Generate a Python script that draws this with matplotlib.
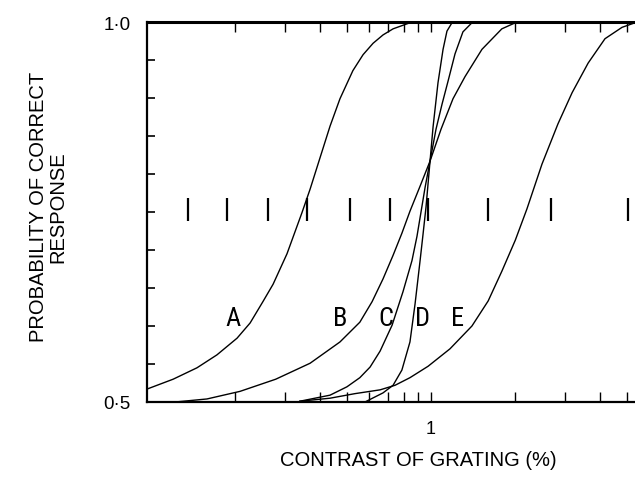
import matplotlib
matplotlib.use("Agg")
import matplotlib.pyplot as plt
from matplotlib.ticker import FixedLocator, FixedFormatter, NullFormatter
from matplotlib import font_manager

plt.rcParams['font.family'] = ['Liberation Sans', 'DejaVu Sans']

# ---- data (contrast %, probability correct) ----
a_x = [0.0968, 0.120, 0.146, 0.172, 0.203, 0.226, 0.251, 0.273, 0.306, 0.346,
       0.370, 0.402, 0.436, 0.473, 0.526, 0.572, 0.621, 0.674, 0.732, 0.841, 0.952]
a_y = [0.517, 0.530, 0.545, 0.562, 0.584, 0.604, 0.632, 0.655, 0.695, 0.749,
       0.780, 0.822, 0.863, 0.899, 0.936, 0.957, 0.972, 0.983, 0.991, 0.999, 1.000]

b_x = [0.122, 0.1585, 0.208, 0.279, 0.370, 0.473, 0.557, 0.616, 0.674, 0.732,
       0.787, 0.841, 0.914, 0.992, 1.086, 1.198, 1.322, 1.52, 1.79, 2.0, 2.26]
b_y = [0.500, 0.504, 0.514, 0.530, 0.551, 0.579, 0.605, 0.632, 0.662, 0.693,
       0.722, 0.751, 0.784, 0.817, 0.859, 0.899, 0.928, 0.964, 0.991, 0.999, 1.000]

c_x = [0.340, 0.436, 0.501, 0.557, 0.606, 0.658, 0.726, 0.794, 0.855, 0.891,
       0.921, 0.952, 0.992, 1.042, 1.095, 1.15, 1.218, 1.30, 1.40, 1.496]
c_y = [0.501, 0.509, 0.520, 0.532, 0.546, 0.567, 0.601, 0.645, 0.686, 0.718,
       0.750, 0.782, 0.817, 0.859, 0.892, 0.922, 0.958, 0.987, 0.999, 1.000]

d_x = [0.581, 0.674, 0.732, 0.787, 0.841, 0.877, 0.914, 0.936, 0.960, 0.992,
       1.017, 1.059, 1.104, 1.14, 1.188, 1.269]
d_y = [0.500, 0.512, 0.522, 0.542, 0.579, 0.629, 0.686, 0.720, 0.757, 0.817,
       0.862, 0.920, 0.964, 0.988, 0.999, 1.000]

e_x = [0.340, 0.436, 0.535, 0.658, 0.744, 0.841, 0.976, 1.169, 1.40, 1.60,
       1.79, 2.0, 2.2, 2.49, 2.84, 3.19, 3.64, 4.18, 4.81, 5.35]
e_y = [0.501, 0.505, 0.511, 0.516, 0.522, 0.532, 0.547, 0.570, 0.600, 0.633,
       0.672, 0.713, 0.754, 0.813, 0.866, 0.907, 0.946, 0.978, 0.993, 0.999]

# row of vertical bars
bar_x = [0.1355, 0.187, 0.262, 0.361, 0.514, 0.714, 0.976, 1.60, 2.68, 5.05]
bar_lo, bar_hi = 0.738, 0.768

# curve letter labels
letters = ['A', 'B', 'C', 'D', 'E']
letter_x = [0.196, 0.473, 0.691, 0.929, 1.249]
letter_y = 0.611

x_minor = [0.2, 0.3, 0.4, 0.5, 0.6, 0.7, 0.8, 0.9, 2, 3, 4, 5]
y_ticks = [0.5, 0.55, 0.6, 0.65, 0.7, 0.75, 0.8, 0.85, 0.9, 0.95, 1.0]
y_labels = ['0\u00b75', '', '', '', '', '', '', '', '', '', '1\u00b70']

# ---- pick a condensed face for the curve letters if one exists ----
letter_family = ['DejaVu Sans']
letter_stretch = 'normal'
names = {f.name for f in font_manager.fontManager.ttflist}
for cand in ['Liberation Sans Narrow', 'DejaVu Sans Condensed', 'Roboto Condensed',
             'Open Sans Condensed', 'Noto Sans Condensed']:
    if cand in names:
        letter_family = [cand, 'DejaVu Sans']
        break
else:
    for f in font_manager.fontManager.ttflist:
        if str(f.stretch) in ('condensed', 'semi-condensed', 'extra-condensed', '87', '75') \
                and f.style == 'normal':
            letter_family = [f.name, 'DejaVu Sans']
            letter_stretch = f.stretch
            break

# ---- figure ----
W, H = 635, 481
fig = plt.figure(figsize=(W / 100, H / 100), dpi=100)
ax = fig.add_axes([147 / W, 1 - 403 / H, 1 - 147 / W, (403 - 23) / H])
ax.set_xscale('log')
ax.set_xlim(0.0968, 5.35)
ax.set_ylim(0.5, 1.0)

for xs, ys in [(a_x, a_y), (b_x, b_y), (c_x, c_y), (d_x, d_y), (e_x, e_y)]:
    ax.plot(xs, ys, color='black', lw=1.0, solid_joinstyle='round', clip_on=False)

ax.vlines(bar_x, bar_lo, bar_hi, color='black', lw=1.6)

for t, lx in zip(letters, letter_x):
    ax.text(lx, letter_y, t, ha='center', va='center', fontsize=19,
            family=letter_family, fontstretch=letter_stretch)

ax.spines['right'].set_visible(False)
for s in ['left', 'bottom']:
    ax.spines[s].set_linewidth(1.6)
ax.spines['top'].set_linewidth(2.2)

ax.xaxis.set_major_locator(FixedLocator([1]))
ax.xaxis.set_major_formatter(FixedFormatter(['1']))
ax.xaxis.set_minor_locator(FixedLocator(x_minor))
ax.xaxis.set_minor_formatter(NullFormatter())
ax.tick_params(axis='x', which='both', direction='in', top=True, bottom=True,
               length=7, width=1.0, pad=13, labelsize=13)

ax.yaxis.set_major_locator(FixedLocator(y_ticks))
ax.yaxis.set_major_formatter(FixedFormatter(y_labels))
ax.yaxis.set_minor_locator(FixedLocator([]))
ax.tick_params(axis='y', which='both', direction='in', left=True, right=False,
               length=6, width=1.2, pad=12, labelsize=13.5)

fig.text(48 / W, 1 - 207 / H, 'PROBABILITY OF CORRECT\nRESPONSE', rotation=90,
         ha='center', va='center', multialignment='center', fontsize=14.5,
         linespacing=1.0)
fig.text(418 / W, 1 - 460 / H, 'CONTRAST OF GRATING (%)', ha='center', va='center',
         fontsize=14.5)

fig.savefig('out.png', dpi=100)
